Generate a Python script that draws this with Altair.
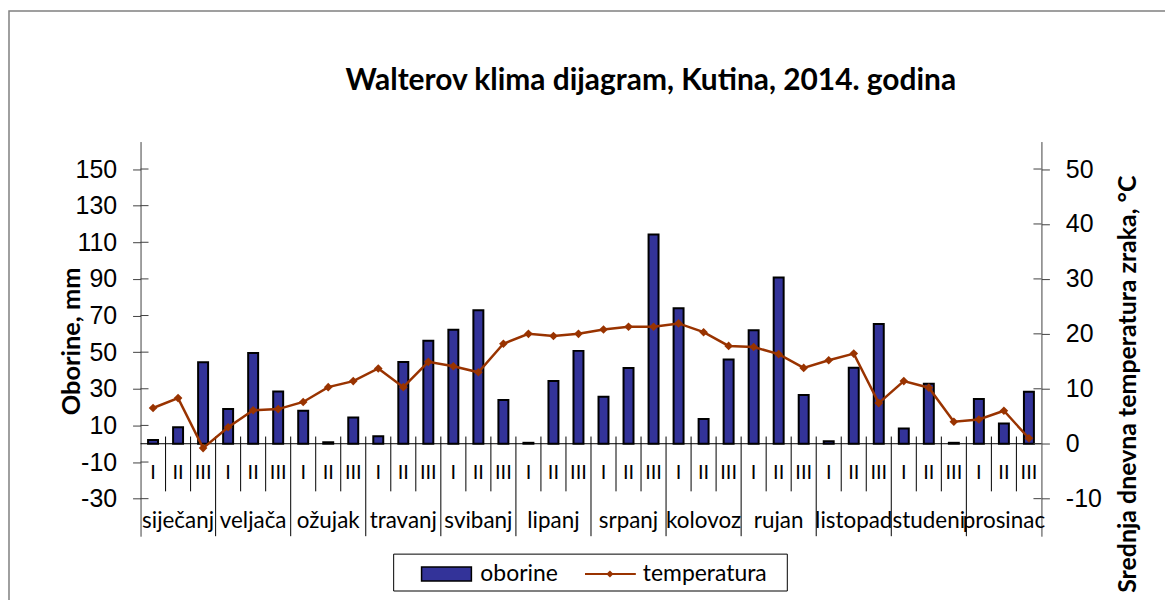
import altair as alt
import pandas as pd

months = ["siječanj", "veljača", "ožujak", "travanj", "svibanj", "lipanj",
          "srpanj", "kolovoz", "rujan", "listopad", "studeni", "prosinac"]
decades = ["I", "II", "III"]
oborine = [2.0, 9.0, 44.5, 19.0, 49.5, 28.5, 18.0, 0.8, 14.3, 4.1, 44.6, 56.2,
           62.2, 72.9, 23.9, 0.5, 34.2, 50.7, 25.7, 41.3, 114.3, 74.0, 13.5, 46.0,
           62.0, 90.8, 26.6, 1.4, 41.5, 65.4, 8.3, 32.8, 0.5, 24.4, 11.0, 28.4]
temperatura = [6.5, 8.3, -0.8, 3.0, 6.1, 6.3, 7.6, 10.3, 11.4, 13.7, 10.3, 14.9,
               14.1, 13.0, 18.2, 20.0, 19.6, 20.0, 20.8, 21.3, 21.3, 21.9, 20.3, 17.8,
               17.6, 16.3, 13.8, 15.2, 16.4, 7.4, 11.4, 10.2, 4.0, 4.4, 6.0, 1.0]
left_ticks = [-30, -10, 10, 30, 50, 70, 90, 110, 130, 150]
right_ticks = [-10, 0, 10, 20, 30, 40, 50]
title_text = "Walterov klima dijagram, Kutina, 2014. godina"

keys = [f"{m} {d}" for m in months for d in decades]
df = pd.DataFrame({
    "key": keys,
    "dek": [d for m in months for d in decades],
    "oborine": oborine,
    "temperatura": temperatura,
})
month_df = pd.DataFrame({"key": [f"{m} II" for m in months], "label": months})
dec_sep = pd.DataFrame({"key": [k for i, k in enumerate(keys) if i % 3 != 0]})
mon_sep = pd.DataFrame({"key": [k for i, k in enumerate(keys) if i % 3 == 0 and i > 0]})
lt_df = pd.DataFrame({"v": left_ticks})
rt_df = pd.DataFrame({"v": right_ticks})
one = pd.DataFrame({"a": [0]})

W, H = 904, 396
FONT = "Lato"
NUMFONT = "Liberation Sans"
BAR = "#333399"
LINE = "#993300"
AX = "#404040"

xs = alt.Scale(domain=keys, type="band", paddingInner=0, paddingOuter=0)
yL = alt.Scale(domain=[-50.5, 165], nice=False, zero=False)
yR = alt.Scale(domain=[-16.833, 55], nice=False, zero=False)

def X(band=None):
    if band is None:
        return alt.X("key:N", scale=xs, axis=None)
    return alt.X("key:N", scale=xs, axis=None, bandPosition=band)

left_axis = alt.Axis(values=left_ticks, grid=False, domainColor=AX, tickColor=AX,
                     tickSize=8, labelFont=NUMFONT, labelFontSize=25, labelColor="black",
                     labelPadding=16, labelExpr="'' + datum.value",
                     title="Oborine, mm", titleFont=FONT, titleFontSize=25.5,
                     titleFontWeight="bold", titleAngle=270, titleX=-69, titleY=200,
                     titleAlign="center", titleBaseline="middle", titleColor="black",
                     orient="left")
right_axis = alt.Axis(values=right_ticks, grid=False, orient="right", domainColor=AX,
                      tickColor=AX, tickSize=8, labelFont=NUMFONT, labelFontSize=25,
                      labelColor="black", labelPadding=16, labelExpr="'' + datum.value",
                      title="Srednja dnevna temperatura zraka, °C", titleFont=FONT,
                      titleFontSize=25, titleFontWeight="bold", titleAngle=270, titleX=86,
                      titleY=243, titleAlign="center", titleBaseline="middle",
                      titleColor="black")

border = alt.Chart(one).mark_rect(fill="transparent", fillOpacity=0, stroke="#808080",
                                  strokeWidth=1.5).encode(
    x=alt.value(-132), x2=alt.value(1100), y=alt.value(-131), y2=alt.value(700))
bars = alt.Chart(df).mark_bar(size=10, color=BAR, stroke="black", strokeWidth=2).encode(
    x=X(), y=alt.Y("oborine:Q", scale=yL, axis=left_axis), y2=alt.datum(0)
)
ltick = alt.Chart(lt_df).mark_rule(color=AX, strokeWidth=1).encode(
    y=alt.Y("v:Q", scale=yL, axis=left_axis), x=alt.value(0), x2=alt.value(8)
)
xline = alt.Chart(one).mark_rule(color="black", strokeWidth=1).encode(
    y=alt.Y("a:Q", scale=yL, axis=left_axis), x=alt.value(0), x2=alt.value(W)
)
dsep = alt.Chart(dec_sep).mark_rule(color="black", strokeWidth=1).encode(
    x=X(0), y=alt.value(296), y2=alt.value(351)
)
msep = alt.Chart(mon_sep).mark_rule(color="black", strokeWidth=1).encode(
    x=X(0), y=alt.value(296), y2=alt.value(396)
)
dlab = alt.Chart(df).mark_text(font=FONT, fontSize=20, color="black", baseline="middle").encode(
    x=X(), y=alt.value(333), text="dek:N"
)
mlab = alt.Chart(month_df).mark_text(font=FONT, fontSize=22.5, color="black", baseline="middle").encode(
    x=X(), y=alt.value(381), text="label:N"
)
ttl = alt.Chart(one).mark_text(text=title_text, font=FONT, fontSize=30, fontWeight="bold",
                               color="black", align="center", baseline="middle").encode(
    x=alt.value(512), y=alt.value(-61))
lbox = alt.Chart(one).mark_rect(fill="white", stroke="black", strokeWidth=1).encode(
    x=alt.value(254), x2=alt.value(649), y=alt.value(414), y2=alt.value(451))
lbar = alt.Chart(one).mark_rect(fill=BAR, stroke="black", strokeWidth=1.5).encode(
    x=alt.value(282), x2=alt.value(332), y=alt.value(427), y2=alt.value(441))
ltxt1 = alt.Chart(one).mark_text(text="oborine", font=FONT, fontSize=23, align="left",
                                 baseline="middle", color="black").encode(
    x=alt.value(341), y=alt.value(434))
lline = alt.Chart(one).mark_rule(color=LINE, strokeWidth=2).encode(
    x=alt.value(446), x2=alt.value(497), y=alt.value(434))
lpt = alt.Chart(one).mark_point(shape="diamond", filled=True, size=50, color=LINE, opacity=1).encode(
    x=alt.value(471), y=alt.value(434))
ltxt2 = alt.Chart(one).mark_text(text="temperatura", font=FONT, fontSize=23, align="left",
                                 baseline="middle", color="black").encode(
    x=alt.value(504), y=alt.value(434))

left_layer = alt.layer(border, bars, ltick, xline, dsep, msep, dlab, mlab, ttl,
                       lbox, lbar, ltxt1, lline, lpt, ltxt2)

line = alt.Chart(df).mark_line(color=LINE, strokeWidth=2.5).encode(
    x=X(), y=alt.Y("temperatura:Q", scale=yR, axis=right_axis)
)
pts = alt.Chart(df).mark_point(shape="diamond", filled=True, size=75, color=LINE, opacity=1).encode(
    x=X(), y=alt.Y("temperatura:Q", scale=yR, axis=right_axis)
)
rtick = alt.Chart(rt_df).mark_rule(color=AX, strokeWidth=1).encode(
    y=alt.Y("v:Q", scale=yR, axis=right_axis), x=alt.value(W - 8), x2=alt.value(W)
)
right_layer = alt.layer(line, pts, rtick)

chart = alt.layer(left_layer, right_layer).resolve_scale(y="independent").properties(
    width=W, height=H,
    background="white",
    autosize=alt.AutoSizeParams(type="none"),
    padding={"left": 133, "top": 133, "right": 124, "bottom": 63},
).configure_view(stroke=None)

chart.save("out.html", embed_options={"renderer": "svg", "actions": False})
